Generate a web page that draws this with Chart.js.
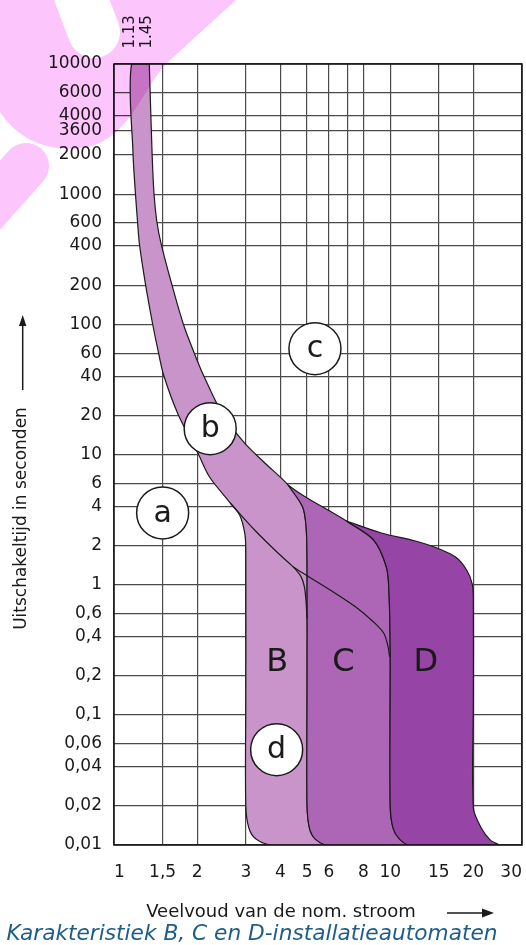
<!DOCTYPE html>
<html>
<head>
<meta charset="utf-8">
<script src="https://cdn.jsdelivr.net/npm/chart.js"></script>
<style>
  html, body { margin: 0; padding: 0; background: #fff; }
</style>
</head>
<body>
<canvas id="myChart" width="526" height="945"></canvas>
<script>
const ctx = document.getElementById('myChart');

// axes: multiple of rated current (x) vs. trip time in seconds (y)
const xTicks = [1, 1.5, 2, 3, 4, 5, 6, 7, 8, 10, 15, 20, 30];
const xTickLabels = ['1', '1,5', '2', '3', '4', '5', '6', '', '8', '10', '15', '20', '30'];
// the "3600" line sits a bit below 4000 in the picture (about 3100 on the scale)
const yTicks = [0.01, 0.02, 0.04, 0.06, 0.1, 0.2, 0.4, 0.6, 1, 2, 4, 6, 10, 20, 40, 60,
                100, 200, 400, 600, 1000, 2000, 3100, 4000, 6000, 10000];
const yTickLabels = ['0,01', '0,02', '0,04', '0,06', '0,1', '0,2', '0,4', '0,6', '1', '2', '4', '6', '10', '20', '40', '60',
                     '100', '200', '400', '600', '1000', '2000', '3600', '4000', '6000', '10000'];

// lower edge of the thermal band, running into the B magnetic limit (3x)
const bandLeft = [
    [1.158, 10000], [1.172, 2035], [1.196, 1003], [1.217, 611], [1.236, 414], [1.3, 204],
    [1.38, 100.6], [1.447, 61.3], [1.512, 40.8], [1.704, 20.5], [2.012, 10.27], [2.218, 6.72],
    [2.636, 4.24], [2.849, 3.43], [2.974, 2.49], [3, 1.85], [3, 0.13], [3, 0.0203],
    [3.078, 0.0135], [3.265, 0.0111], [3.707, 0.01]
];
// upper edge of the thermal band, common to B, C and D, ending in the D limit (20x)
const envelope = [
    [1.342, 10000], [1.374, 2035], [1.396, 1003], [1.43, 611], [1.482, 414], [1.618, 204],
    [1.782, 100.6], [1.945, 61.3], [2.106, 40.8], [2.47, 20.5], [2.966, 12.26],
    [3.515, 8.61], [4.268, 5.83], [4.629, 5.15], [5.144, 4.47], [5.951, 3.75], [6.942, 3.085],
    [9.282, 2.495], [12.34, 2.165], [14.77, 1.913], [17.24, 1.631], [18.91, 1.297], [19.81, 1.012],
    [20, 0.762], [20, 0.13], [20, 0.0193], [21.36, 0.0135], [23.04, 0.0109], [24.61, 0.01]
];
// left edges of the C (5x) and D (10x) zones, starting on the envelope
const cLeft = [
    [4.268, 5.83], [4.82, 3.95], [4.96, 2.774], [5, 1.547], [5, 0.13], [5, 0.0203],
    [5.1, 0.0135], [5.357, 0.0111], [5.904, 0.01]
];
const dLeft = [
    [6.942, 3.085], [8.71, 2.204], [9.686, 1.367], [9.89, 0.91], [10, 0.315], [10, 0.0203],
    [10.24, 0.0135], [10.81, 0.0111], [11.69, 0.01]
];
// thin lower limit lines of C and D inside the band
const cLowerLine = [
    [2.636, 4.24], [3.229, 2.63], [3.932, 1.742], [4.445, 1.374], [4.754, 1.152],
    [4.888, 0.965], [4.952, 0.762], [5, 0.55]
];
const dLowerLine = [
    [4.445, 1.374], [4.629, 1.297], [6.064, 0.91], [7.483, 0.677], [8.682, 0.5195],
    [9.482, 0.423], [9.822, 0.334], [9.95, 0.278]
];

const markLetters = ['a', 'b', 'c', 'd'];
const markX = [1.5, 2.23, 5.34, 3.88];
const markY = [3.56, 15.8, 65, 0.054];
const zoneLetters = ['B', 'C', 'D'];
const zoneX = [3.9, 6.77, 13.45];
const zoneY = [0.25, 0.25, 0.25];
const topLabels = ['1.13', '1.45'];
const topLabelX = [bandLeft[0][0], envelope[0][0]];

const colB = '#c994c9';
const colC = '#ad66b5';
const colD = '#9645a6';

function pts(list) {
    return list.map(p => ({x: p[0], y: p[1]}));
}
function idx(x) {
    return envelope.findIndex(p => p[0] === x);
}

const cStart = idx(cLeft[0][0]);
const dStart = idx(dLeft[0][0]);
// each zone shares its right edge with the left edge of the next one
const bShape = envelope.slice(0, cStart)
    .concat(cLeft, bandLeft.slice().reverse(), [envelope[0]]);
const cShape = cLeft.concat(dLeft.slice().reverse(), envelope.slice(cStart, dStart).reverse());
const dShape = dLeft.concat(envelope.slice(dStart).reverse());

function area(list, color, order) {
    return {
        data: pts(list),
        backgroundColor: color,
        borderColor: '#1a1a1a',
        borderWidth: 1.2,
        fill: 'shape',
        tension: 0.3,
        pointRadius: 0,
        order: order
    };
}
function thin(list) {
    return {
        data: pts(list),
        borderColor: '#1a1a1a',
        borderWidth: 1.2,
        fill: false,
        tension: 0.3,
        pointRadius: 0,
        order: 1
    };
}

function drawWatermark(c) {
    const off = document.createElement('canvas');
    off.width = 526;
    off.height = 945;
    const o = off.getContext('2d');
    o.fillStyle = '#fcc6fc';
    o.strokeStyle = '#fcc6fc';
    o.beginPath();
    o.moveTo(0, 0);
    o.lineTo(236, 0);
    o.lineTo(168, 62);
    o.bezierCurveTo(140, 90, 130, 145, 75, 149);
    o.quadraticCurveTo(25, 150, 0, 112);
    o.closePath();
    o.fill();
    o.lineCap = 'round';
    o.lineWidth = 46;
    o.beginPath();
    o.moveTo(26, 166);
    o.lineTo(-40, 240);
    o.stroke();
    o.globalCompositeOperation = 'destination-out';
    o.lineWidth = 52;
    o.beginPath();
    o.moveTo(78, -10);
    o.lineTo(94, 32);
    o.stroke();
    c.save();
    c.globalCompositeOperation = 'multiply';
    c.drawImage(off, 0, 0);
    c.restore();
}

const decor = {
    id: 'decor',
    afterDatasetsDraw(chart) {
        const {ctx: c, chartArea: a, scales: {x, y}} = chart;
        c.save();
        c.strokeStyle = '#111';
        c.lineWidth = 1.5;
        c.strokeRect(a.left, a.top, a.right - a.left, a.bottom - a.top);

        c.textAlign = 'center';
        c.textBaseline = 'middle';
        c.font = '30px "DejaVu Sans"';
        markLetters.forEach((t, i) => {
            const px = x.getPixelForValue(markX[i]);
            const py = y.getPixelForValue(markY[i]);
            c.beginPath();
            c.arc(px, py, 26, 0, Math.PI * 2);
            c.fillStyle = '#fff';
            c.fill();
            c.lineWidth = 1.5;
            c.strokeStyle = '#1a1a1a';
            c.stroke();
            c.fillStyle = '#1a1a1a';
            c.fillText(t, px, py + 1);
        });
        c.font = '32px "DejaVu Sans"';
        zoneLetters.forEach((t, i) => {
            c.fillText(t, x.getPixelForValue(zoneX[i]), y.getPixelForValue(zoneY[i]));
        });
        c.restore();
    },
    afterDraw(chart) {
        const {ctx: c, scales: {x}} = chart;
        c.save();
        c.fillStyle = '#1a1a1a';
        c.strokeStyle = '#1a1a1a';

        // rated current marks above the band
        c.font = '15px "DejaVu Sans"';
        c.textAlign = 'left';
        c.textBaseline = 'alphabetic';
        topLabels.forEach((t, i) => {
            c.save();
            c.translate(x.getPixelForValue(topLabelX[i]) + 2, 48.5);
            c.rotate(-Math.PI / 2);
            c.fillText(t, 0, 0);
            c.restore();
        });

        // y title with arrow
        c.font = '17px "DejaVu Sans"';
        c.save();
        c.translate(25.5, 518.5);
        c.rotate(-Math.PI / 2);
        c.textAlign = 'center';
        c.fillText('Uitschakeltijd in seconden', 0, 0);
        c.restore();
        c.lineWidth = 1.5;
        c.beginPath();
        c.moveTo(22.7, 390);
        c.lineTo(22.7, 322);
        c.stroke();
        c.beginPath();
        c.moveTo(22.7, 315);
        c.lineTo(19, 326);
        c.lineTo(26.4, 326);
        c.closePath();
        c.fill();

        // x title with arrow
        c.font = '18px "DejaVu Sans"';
        c.textAlign = 'center';
        c.fillText('Veelvoud van de nom. stroom', 281, 917);
        c.beginPath();
        c.moveTo(447, 913);
        c.lineTo(486, 913);
        c.stroke();
        c.beginPath();
        c.moveTo(494, 913);
        c.lineTo(482, 908.5);
        c.lineTo(482, 917.5);
        c.closePath();
        c.fill();

        // caption
        c.font = 'italic 21.7px "DejaVu Sans"';
        c.fillStyle = '#1d5d88';
        c.fillText('Karakteristiek B, C en D-installatieautomaten', 252, 940);
        c.restore();

        drawWatermark(c);
    }
};

const tickFont = {family: 'DejaVu Sans', size: 17};

new Chart(ctx, {
    type: 'line',
    data: {
        datasets: [
            thin(cLowerLine),
            thin(dLowerLine),
            area(dShape, colD, 2),
            area(cShape, colC, 3),
            area(bShape, colB, 4)
        ]
    },
    options: {
        responsive: false,
        animation: false,
        layout: {
            padding: {top: 64, right: 4, bottom: 0, left: 0}
        },
        plugins: {
            legend: {display: false},
            tooltip: {enabled: false}
        },
        scales: {
            x: {
                type: 'logarithmic',
                min: 1,
                max: 30,
                afterBuildTicks: function(scale) {
                    scale.ticks = xTicks.map(v => ({value: v}));
                },
                afterFit: function(scale) {
                    scale.height = 100;
                    scale.paddingLeft = 0;
                    scale.paddingRight = 0;
                },
                ticks: {
                    autoSkip: false,
                    maxRotation: 0,
                    align: 'inner',
                    padding: 17,
                    color: '#1a1a1a',
                    font: tickFont,
                    callback: function(value, index) {
                        return xTickLabels[index];
                    }
                },
                grid: {color: '#4a4a4a', lineWidth: 1.2, drawTicks: false},
                border: {display: false}
            },
            y: {
                type: 'logarithmic',
                min: 0.01,
                max: 10000,
                afterBuildTicks: function(scale) {
                    scale.ticks = yTicks.map(v => ({value: v}));
                },
                afterFit: function(scale) {
                    scale.width = 114;
                    scale.paddingTop = 0;
                    scale.paddingBottom = 0;
                },
                ticks: {
                    autoSkip: false,
                    padding: 12,
                    color: '#1a1a1a',
                    font: tickFont,
                    callback: function(value, index) {
                        return yTickLabels[index];
                    }
                },
                grid: {color: '#4a4a4a', lineWidth: 1.2, drawTicks: false},
                border: {display: false}
            }
        }
    },
    plugins: [decor]
});
</script>
</body>
</html>
